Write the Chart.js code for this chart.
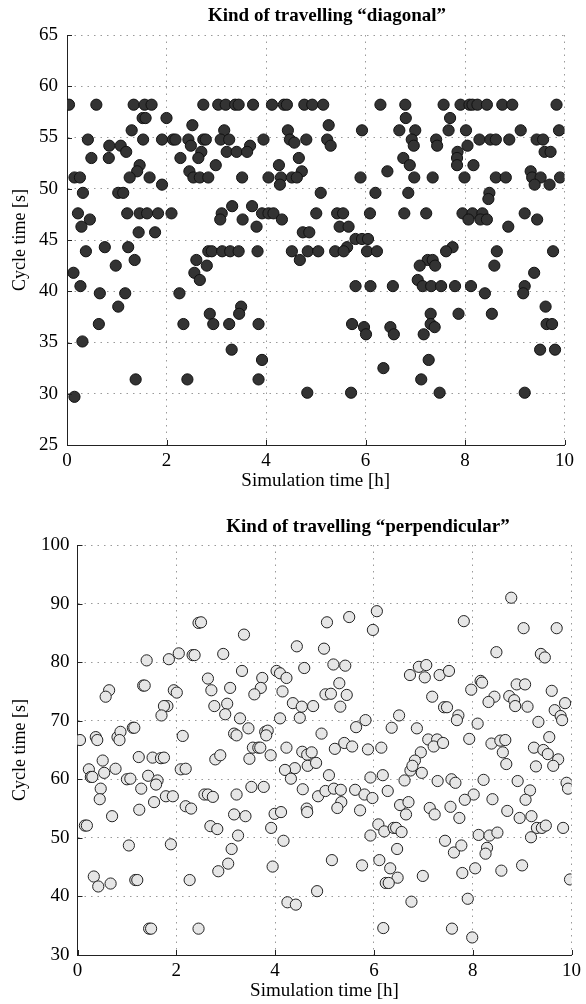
<!DOCTYPE html>
<html><head><meta charset="utf-8">
<script src="https://cdn.jsdelivr.net/npm/chart.js@4/dist/chart.umd.min.js"></script>
<style>
html,body{margin:0;padding:0;background:#fff;width:586px;height:1004px;overflow:hidden}
canvas{position:absolute;left:0}
#c1{top:0}
#c2{top:500px}
</style></head><body>
<canvas id="c1" width="586" height="500"></canvas>
<canvas id="c2" width="586" height="504"></canvas>
<script>
// ---------- DATA ----------
const timeTicks = [0, 2, 4, 6, 8, 10];
const diagCycleTicks = [25, 30, 35, 40, 45, 50, 55, 60, 65];
const perpCycleTicks = [30, 40, 50, 60, 70, 80, 90, 100];
const diagTitle = 'Kind of travelling \u201cdiagonal\u201d';
const perpTitle = 'Kind of travelling \u201cperpendicular\u201d';
const xLabel = 'Simulation time [h]';
const yLabel = 'Cycle time [s]';

// [simulation time h, cycle time s]
const diagonalData = [
 [0.04,58.2],[0.59,58.2],[1.34,58.2],[1.56,58.2],[1.70,58.2],[2.74,58.2],[3.04,58.2],[3.19,58.2],[3.38,58.2],[3.45,58.2],
 [3.74,58.2],[4.12,58.2],[4.36,58.2],[4.42,58.2],[4.77,58.2],[4.93,58.2],[5.15,58.2],[6.30,58.2],[6.80,58.2],[7.57,58.2],
 [7.91,58.2],[8.09,58.2],[8.15,58.2],[8.25,58.2],[8.44,58.2],[8.75,58.2],[8.95,58.2],[9.84,58.2],
 [1.52,56.9],[1.58,56.9],[2.00,56.9],[6.81,56.9],[7.70,56.9],
 [2.52,56.2],[5.26,56.2],
 [1.30,55.7],[3.16,55.7],[4.44,55.7],[5.93,55.7],[6.68,55.7],[7.00,55.7],[7.67,55.7],[8.02,55.7],[9.12,55.7],[9.89,55.7],
 [0.42,54.8],[1.53,54.8],[1.91,54.8],[2.13,54.8],[2.18,54.8],[2.44,54.8],[2.74,54.8],[2.79,54.8],[3.09,54.8],[3.26,54.8],
 [3.95,54.8],[4.48,54.8],[4.81,54.8],[5.23,54.8],[6.93,54.8],[7.42,54.8],[8.29,54.8],[8.51,54.8],[8.62,54.8],[8.89,54.8],
 [9.44,54.8],[9.57,54.8],
 [4.57,54.5],
 [0.85,54.2],[1.08,54.2],[2.49,54.2],[3.68,54.2],[5.30,54.2],[6.97,54.2],[7.44,54.2],[8.05,54.2],
 [1.19,53.6],[2.70,53.6],[3.21,53.6],[3.41,53.6],[3.62,53.6],[7.85,53.6],[9.60,53.6],[9.72,53.6],
 [0.49,53.0],[0.84,53.0],[2.28,53.0],[2.64,53.0],[4.66,53.0],[6.76,53.0],[7.84,53.0],
 [1.46,52.3],[2.99,52.3],[4.26,52.3],[6.89,52.3],[7.84,52.3],[8.17,52.3],
 [1.41,51.7],[2.46,51.7],[4.72,51.7],[6.44,51.7],[9.32,51.7],
 [0.15,51.1],[0.26,51.1],[1.26,51.1],[1.66,51.1],[2.54,51.1],[2.67,51.1],[2.84,51.1],[3.52,51.1],[4.05,51.1],[4.30,51.1],
 [4.52,51.1],[4.62,51.1],[5.90,51.1],[6.98,51.1],[7.35,51.1],[7.99,51.1],[8.62,51.1],[8.82,51.1],[9.35,51.1],[9.52,51.1],[9.91,51.1],
 [1.91,50.4],[4.28,50.4],[9.40,50.4],[9.70,50.4],
 [0.32,49.6],[1.03,49.6],[1.13,49.6],[5.10,49.6],[6.20,49.6],[6.86,49.6],[8.49,49.6],
 [8.47,49.0],
 [3.32,48.3],[3.72,48.3],
 [0.22,47.6],[1.21,47.6],[1.46,47.6],[1.61,47.6],[1.83,47.6],[2.10,47.6],[3.11,47.6],[3.92,47.6],[4.05,47.6],[4.15,47.6],
 [5.01,47.6],[5.43,47.6],[5.55,47.6],[6.09,47.6],[6.78,47.6],[7.22,47.6],[7.95,47.6],[8.15,47.6],[8.35,47.6],[9.20,47.6],
 [0.46,47.0],[3.08,47.0],[3.53,47.0],[4.32,47.0],[8.07,47.0],[8.31,47.0],[8.44,47.0],[9.45,47.0],
 [0.29,46.3],[3.81,46.3],[5.48,46.3],[5.66,46.3],[8.87,46.3],
 [1.44,45.75],[1.77,45.75],[4.74,45.75],[4.87,45.75],
 [5.80,45.1],[5.93,45.1],[6.05,45.1],
 [0.76,44.3],[1.23,44.3],[5.63,44.3],[7.75,44.3],
 [0.38,43.9],[2.84,43.9],[2.91,43.9],[3.12,43.9],[3.28,43.9],[3.45,43.9],[3.83,43.9],[4.52,43.9],[4.84,43.9],[5.05,43.9],
 [5.39,43.9],[5.56,43.9],[6.03,43.9],[6.23,43.9],[7.62,43.9],[8.64,43.9],[9.77,43.9],
 [1.36,43.05],[2.60,43.05],[4.68,43.05],[7.25,43.05],[7.35,43.05],
 [0.98,42.5],[2.81,42.5],[7.09,42.5],[7.40,42.5],[8.59,42.5],
 [0.13,41.8],[2.56,41.8],[9.39,41.8],
 [2.67,41.1],[7.05,41.1],
 [0.27,40.5],[5.80,40.5],[6.10,40.5],[6.55,40.5],[7.15,40.5],[7.32,40.5],[7.52,40.5],[7.80,40.5],[8.12,40.5],[9.20,40.5],
 [0.66,39.8],[1.17,39.8],[2.26,39.8],[8.40,39.8],[9.17,39.8],
 [1.03,38.5],[3.50,38.5],[9.62,38.5],
 [2.87,37.8],[3.46,37.8],[7.31,37.8],[7.87,37.8],[8.54,37.8],
 [0.64,36.8],[2.34,36.8],[2.94,36.8],[3.26,36.8],[3.85,36.8],[5.73,36.8],[7.31,36.8],[9.64,36.8],[9.75,36.8],
 [5.97,36.5],[6.50,36.5],[7.39,36.5],
 [6.01,35.8],[6.57,35.8],[7.17,35.8],
 [0.31,35.1],
 [3.31,34.3],[9.51,34.3],[9.81,34.3],
 [3.92,33.3],[7.27,33.3],
 [6.36,32.5],
 [1.38,31.4],[2.42,31.4],[3.85,31.4],[7.12,31.4],
 [4.83,30.1],[5.71,30.1],[7.49,30.1],[9.20,30.1],
 [0.15,29.7]
];

const perpendicularData = [
 [2.45,86.7],[2.50,86.8],[1.40,80.3],[1.85,80.5],[2.05,81.5],[2.33,81.2],[2.37,81.2],[2.95,81.4],[3.37,84.7],[3.33,78.5],
 [2.64,77.2],[2.71,75.2],[3.09,75.6],[1.33,76.0],[1.36,76.0],[0.64,75.2],[0.57,74.1],[1.95,75.2],[2.01,74.8],[1.82,72.5],
 [1.75,72.5],[1.70,70.9],[2.77,72.5],[3.03,72.9],[2.99,71.1],[3.29,70.4],[0.05,66.7],[0.37,67.2],[0.40,66.7],[0.81,67.2],
 [0.87,68.1],[0.85,66.7],[1.12,68.8],[1.15,68.8],[2.13,67.4],[3.17,67.8],[3.22,67.5],[0.51,63.2],[0.23,61.7],[0.27,60.4],
 [0.30,60.4],[0.54,61.1],[0.77,61.8],[1.24,63.8],[1.52,63.7],[1.69,63.6],[1.75,63.7],[1.00,60.0],[1.07,60.1],[1.43,60.6],
 [1.62,59.8],[1.59,59.1],[2.09,61.7],[2.19,61.8],[2.79,63.4],[2.89,64.1],[0.47,58.4],[0.45,56.6],[1.29,58.4],[1.55,56.1],
 [1.79,57.1],[1.93,57.1],[2.57,57.4],[2.64,57.4],[2.74,57.0],[3.22,57.4],[0.70,53.7],[1.25,54.8],[2.19,55.4],[2.30,55.0],
 [3.17,54.0],[3.40,53.7],[0.15,52.1],[0.19,52.1],[2.69,52.0],[2.83,51.5],[3.25,50.4],[1.04,48.7],[1.89,48.9],[3.12,48.1],
 [0.33,43.4],[0.42,41.7],[0.67,42.2],[1.17,42.8],[1.21,42.8],[2.27,42.8],[2.85,44.3],[3.05,45.6],[1.45,34.5],[1.49,34.5],
 [2.45,34.5],
 [5.05,86.8],[5.50,87.7],[6.06,88.7],[5.98,85.5],[4.44,82.7],[4.99,82.3],[4.03,78.5],[4.10,78.1],[4.23,77.3],[4.59,79.0],
 [3.74,77.3],[3.71,75.6],[3.58,74.5],[4.15,75.0],[5.18,79.6],[5.42,79.4],[5.30,76.4],[5.02,74.5],[5.13,74.6],[5.45,74.4],
 [5.32,72.4],[4.36,73.0],[4.54,72.4],[4.77,72.5],[4.50,70.5],[4.10,70.4],[6.73,77.8],[6.51,70.9],[6.36,68.8],[5.83,70.1],
 [5.64,68.9],[3.46,68.7],[3.80,68.1],[3.85,68.3],[3.82,67.5],[4.94,67.8],[3.55,65.4],[3.66,65.4],[3.70,65.4],[3.48,63.5],
 [3.91,64.1],[4.23,65.4],[4.55,64.7],[4.65,64.2],[4.74,64.6],[4.66,62.3],[4.83,62.8],[4.40,61.9],[4.20,61.6],[4.32,60.1],
 [5.21,65.2],[5.40,66.2],[5.56,65.6],[5.88,65.1],[6.15,65.4],[5.09,60.7],[5.93,60.3],[6.18,60.7],[6.74,61.5],[6.62,59.8],
 [6.28,58.0],[3.52,58.7],[3.77,58.7],[4.56,58.3],[4.87,57.1],[5.02,58.0],[5.19,58.4],[5.33,58.2],[5.34,56.1],[5.26,55.1],
 [5.62,58.2],[5.81,57.4],[5.97,56.8],[4.64,55.0],[4.65,54.4],[5.72,54.7],[6.53,55.6],[6.65,54.0],[3.99,54.1],[4.12,54.4],
 [3.92,51.7],[4.17,49.5],[5.93,50.4],[6.09,52.3],[6.21,51.1],[6.40,51.7],[6.45,51.7],[6.56,51.0],[6.47,48.1],[3.95,45.1],
 [5.15,46.2],[5.76,45.3],[6.11,46.2],[6.33,44.8],[6.48,43.2],[6.24,42.3],[6.30,42.3],[6.76,39.1],[4.85,40.9],[4.25,39.0],
 [4.42,38.6],[6.19,34.6],
 [8.78,91.0],[7.82,87.0],[9.03,85.8],[9.70,85.8],[8.48,81.7],[9.38,81.4],[9.46,80.8],[6.91,79.2],[7.06,79.5],[7.03,77.4],
 [7.33,77.8],[7.52,78.5],[7.97,75.3],[8.16,76.8],[8.19,76.5],[8.89,76.2],[9.06,76.2],[9.60,75.1],[7.18,74.1],[8.44,74.1],
 [8.32,73.2],[8.74,74.2],[8.84,73.5],[8.86,72.5],[9.11,72.4],[9.87,73.0],[9.66,71.8],[9.78,70.8],[9.81,70.1],[7.42,72.3],
 [7.48,72.3],[7.71,70.9],[7.68,70.1],[8.10,69.5],[9.33,69.8],[6.87,68.7],[7.10,66.8],[7.28,66.8],[7.21,65.6],[7.40,66.2],
 [7.93,66.9],[8.38,66.1],[8.56,66.6],[8.66,66.7],[8.61,64.6],[8.68,62.6],[9.55,67.2],[9.24,65.4],[9.43,65.0],[9.52,64.3],
 [9.73,63.4],[9.63,62.3],[9.28,62.2],[6.95,64.6],[6.83,63.2],[6.78,62.3],[6.97,61.1],[7.29,59.7],[7.57,60.0],[7.65,59.4],
 [8.22,59.9],[8.91,59.7],[9.16,58.1],[9.90,59.4],[9.93,58.4],[6.70,56.1],[8.02,57.4],[7.84,56.5],[7.55,55.3],[7.13,55.1],
 [7.23,54.0],[7.73,53.4],[8.40,56.6],[8.70,54.6],[8.95,53.4],[9.19,53.7],[9.07,56.5],[9.30,51.7],[9.40,51.7],[9.48,52.1],
 [9.83,51.7],[9.18,50.1],[8.12,50.5],[8.34,50.4],[8.50,50.9],[7.44,49.5],[7.62,47.5],[7.77,48.7],[8.29,48.3],[8.26,47.3],
 [9.00,45.3],[8.58,44.4],[8.05,44.8],[7.79,44.0],[6.99,43.5],[9.97,42.9],[7.90,39.6],[7.58,34.5],[7.99,33.0]
];

// ---------- RENDERING ----------
const FONT = "'Liberation Serif','Times New Roman',serif";
Chart.defaults.font.family = FONT;
Chart.defaults.color = '#000';

const figTitle = {
  id: 'figTitle',
  afterDraw(chart, args, opts) {
    const ctx = chart.ctx;
    ctx.save();
    ctx.font = 'bold ' + opts.size + 'px ' + FONT;
    ctx.fillStyle = '#000';
    ctx.textAlign = 'center';
    ctx.textBaseline = 'middle';
    ctx.fillText(opts.text, opts.x, opts.y);
    ctx.restore();
  }
};

const inwardTicks = {
  id: 'inwardTicks',
  afterDatasetsDraw(chart) {
    const {ctx, chartArea: a, scales: {x, y}} = chart;
    ctx.save();
    ctx.strokeStyle = '#222';
    ctx.lineWidth = 1;
    ctx.beginPath();
    x.ticks.forEach(t => {
      const px = Math.round(x.getPixelForValue(t.value)) + 0.5;
      ctx.moveTo(px, a.bottom); ctx.lineTo(px, a.bottom - 5);
    });
    y.ticks.forEach(t => {
      const py = Math.round(y.getPixelForValue(t.value)) + 0.5;
      ctx.moveTo(a.left, py); ctx.lineTo(a.left + 5, py);
    });
    ctx.stroke();
    ctx.restore();
  }
};

function makeChart(id, data, yTicks, cfg) {
  return new Chart(document.getElementById(id), {
    type: 'scatter',
    data: {
      datasets: [{
        data: data.map(p => ({x: p[0], y: p[1]})),
        backgroundColor: cfg.fill,
        borderColor: cfg.stroke,
        borderWidth: 1,
        pointRadius: 5.6,
        pointHoverRadius: 5.6
      }]
    },
    options: {
      responsive: false,
      animation: false,
      events: [],
      layout: {padding: cfg.padding},
      plugins: {
        legend: {display: false},
        tooltip: {enabled: false},
        figTitle: {text: cfg.title, x: cfg.titleX, y: cfg.titleY, size: 19}
      },
      scales: {
        x: {
          type: 'linear', min: 0, max: 10,
          afterBuildTicks: s => { s.ticks = timeTicks.map(v => ({value: v})); },
          afterFit: s => { s.height = cfg.xAxisH; },
          ticks: {font: {size: 19}, color: '#000', padding: cfg.xTickPad, maxRotation: 0, autoSkip: false},
          grid: {color: '#9a9a9a', lineWidth: 1, drawTicks: false},
          border: {display: true, color: '#222', width: 1, dash: [1.5, 5]},
          title: {display: true, text: xLabel, font: {size: 19}, color: '#000', padding: {top: 0, bottom: cfg.xTitlePad}}
        },
        y: {
          type: 'linear', min: yTicks[0], max: yTicks[yTicks.length - 1],
          afterBuildTicks: s => { s.ticks = yTicks.map(v => ({value: v})); },
          afterFit: s => { s.width = cfg.yAxisW; },
          ticks: {font: {size: 19}, color: '#000', padding: cfg.yTickPad, autoSkip: false},
          grid: {color: '#9a9a9a', lineWidth: 1, drawTicks: false},
          border: {display: true, color: '#222', width: 1, dash: [1.5, 5]},
          title: {display: true, text: yLabel, font: {size: 18}, color: '#000', padding: {top: 9, bottom: 0}}
        }
      }
    },
    plugins: [figTitle, inwardTicks]
  });
}

makeChart('c1', diagonalData, diagCycleTicks, {
  fill: '#333333', stroke: '#111111',
  padding: {left: 0, right: 21.5, top: 35, bottom: 0},
  xAxisH: 55, yAxisW: 67, xTickPad: 5, yTickPad: 9, xTitlePad: 8,
  title: diagTitle, titleX: 327, titleY: 16
});

makeChart('c2', perpendicularData, perpCycleTicks, {
  fill: '#e6e6e6', stroke: '#222222',
  padding: {left: 0, right: 10.5, top: 45, bottom: 0},
  xAxisH: 49, yAxisW: 77.5, xTickPad: 5, yTickPad: 8, xTitlePad: 2,
  title: perpTitle, titleX: 368, titleY: 27
});
</script>
</body></html>
